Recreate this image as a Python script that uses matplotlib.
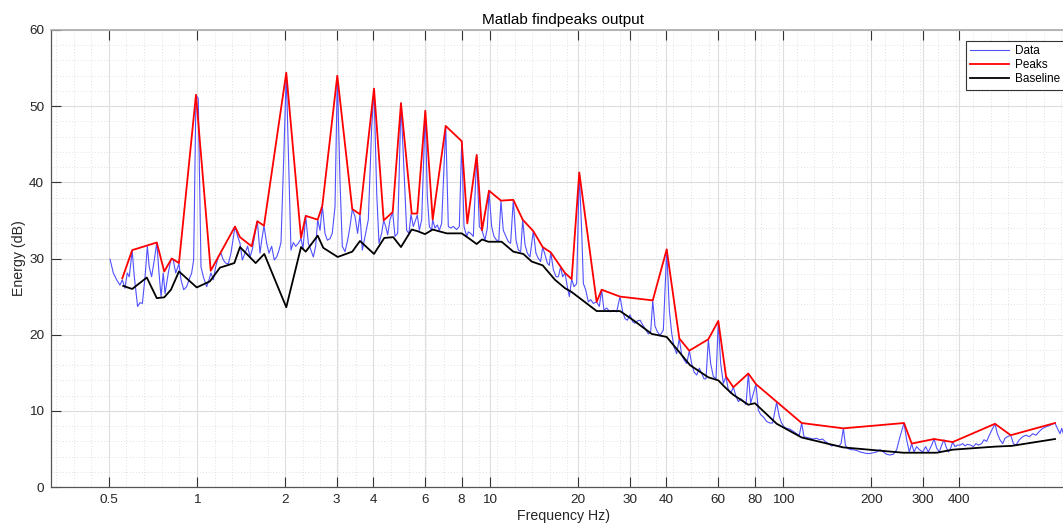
import numpy as np
import matplotlib.pyplot as plt
from matplotlib.ticker import FixedLocator, FixedFormatter, NullFormatter

plt.rcParams['font.family'] = ['Liberation Sans', 'DejaVu Sans']

# measured spectrum (Hz, dB)
data_hz = [0.505, 0.518, 0.532, 0.546, 0.556, 0.568, 0.578, 0.587, 0.601, 0.611,
           0.618, 0.627, 0.639, 0.651, 0.665, 0.677, 0.687, 0.700, 0.715, 0.729,
           0.742, 0.754, 0.767, 0.778, 0.798, 0.815, 0.830, 0.846, 0.868, 0.882,
           0.901, 0.922, 0.939, 0.959, 0.974, 0.992, 1.010, 1.032, 1.051, 1.079,
           1.099, 1.116, 1.137, 1.158, 1.182, 1.207, 1.230, 1.253, 1.279, 1.306,
           1.348, 1.377, 1.402, 1.428, 1.458, 1.489, 1.517, 1.545, 1.578, 1.607,
           1.641, 1.663, 1.693, 1.729, 1.761, 1.798, 1.836, 1.871, 1.905, 1.935,
           1.976, 2.017, 2.061, 2.093, 2.132, 2.172, 2.217, 2.265, 2.301, 2.349,
           2.399, 2.449, 2.495, 2.541, 2.582, 2.629, 2.678, 2.734, 2.785, 2.844,
           2.895, 2.958, 3.013, 3.076, 3.133, 3.200, 3.267, 3.328, 3.390, 3.462,
           3.534, 3.600, 3.667, 3.745, 3.844, 3.947, 4.019, 4.105, 4.180, 4.268,
           4.336, 4.406, 4.476, 4.557, 4.654, 4.740, 4.840, 4.968, 5.100, 5.195,
           5.290, 5.375, 5.473, 5.649, 5.739, 5.846, 6.015, 6.111, 6.209, 6.322,
           6.372, 6.490, 6.610, 6.715, 6.839, 7.062, 7.207, 7.341, 7.497, 7.694,
           7.858, 8.007, 8.154, 8.326, 8.436, 8.590, 8.772, 9.007, 9.195, 9.391,
           9.614, 9.792, 9.922, 10.13, 10.32, 10.54, 10.71, 10.90, 11.10, 11.34,
           11.55, 11.76, 12.01, 12.27, 12.50, 12.73, 12.93, 13.17, 13.41, 13.69,
           14.05, 14.35, 14.62, 14.89, 15.13, 15.41, 15.69, 15.94, 16.12, 16.46,
           16.81, 17.11, 17.42, 17.70, 18.03, 18.36, 18.66, 19.00, 19.35, 19.76,
           20.17, 20.55, 20.83, 21.21, 21.66, 22.06, 22.53, 23.12, 23.61, 24.05,
           24.49, 25.01, 25.68, 26.36, 27.06, 27.78, 28.37, 28.90, 29.43, 30.05,
           30.69, 31.26, 31.84, 32.51, 33.19, 34.08, 34.71, 35.36, 35.93, 36.58,
           37.25, 38.04, 39.05, 40.10, 40.94, 41.70, 42.46, 43.36, 44.27, 45.10,
           45.94, 46.92, 47.90, 48.79, 49.70, 50.75, 51.82, 52.79, 53.77, 54.61,
           55.62, 56.64, 57.84, 59.07, 60.15, 61.28, 62.58, 63.91, 65.09, 66.29,
           67.70, 69.13, 70.42, 71.72, 73.23, 74.78, 76.16, 77.55, 80.86, 82.37,
           83.90, 85.68, 87.96, 90.28, 92.18, 95.1, 97.2, 98.9, 100.8, 102.9,
           105.6, 108.5, 111.3, 113.7, 115.8, 117.9, 120.4, 123.6, 126.9, 130.3,
           133.0, 136.6, 139.1, 142.8, 146.6, 150.5, 154.5, 157.8, 160.7, 163.3,
           165.8, 170.2, 173.8, 178.4, 183.2, 188.0, 193.0, 198.2, 203.4, 208.8,
           214.4, 220.0, 225.9, 231.9, 238.1, 244.3, 250.8, 258.8, 264.3, 269.9,
           274.9, 280.0, 285.9, 292.0, 299.7, 306.8, 313.3, 321.7, 327.7, 334.6,
           341.7, 348.0, 354.4, 360.0, 366.7, 373.5, 379.4, 386.4, 393.6, 401.9,
           410.4, 418.0, 425.7, 437.0, 446.3, 455.8, 464.2, 476.4, 485.3, 495.6,
           508.8, 519.5, 529.1, 538.9, 550.3, 562.0, 572.4, 583.0, 598.7, 611.2,
           624.2, 640.8, 657.6, 675.1, 693.0, 711.5, 730.4, 749.8, 769.6, 790.1,
           815.4, 847.9, 863.6, 881.8, 893.4, 905.4, 929.0]
data_db = [29.9, 28.1, 27.2, 26.5, 27.2, 26.1, 28.1, 27.6, 31.0, 27.6,
           25.9, 23.7, 24.2, 24.1, 27.6, 31.6, 28.9, 27.6, 29.8, 32.1,
           28.1, 25.0, 28.1, 25.4, 28.1, 29.9, 29.8, 28.1, 29.3, 27.2,
           25.9, 26.3, 27.2, 28.1, 29.8, 51.5, 51.0, 28.9, 27.6, 26.3,
           27.2, 28.1, 27.2, 28.9, 30.2, 30.7, 29.8, 29.4, 29.3, 30.7,
           34.2, 32.9, 32.0, 29.8, 30.7, 31.6, 30.2, 31.2, 33.3, 34.9,
           30.7, 32.4, 34.3, 32.0, 30.7, 31.6, 29.8, 30.2, 31.1, 32.1,
           42.9, 54.3, 40.7, 31.1, 32.1, 31.6, 32.0, 32.6, 31.3, 35.6,
           32.0, 31.1, 30.2, 31.6, 35.1, 33.7, 36.9, 33.3, 32.4, 32.6,
           33.3, 36.8, 54.0, 40.3, 31.6, 30.9, 32.4, 34.2, 36.5, 35.5,
           33.3, 35.8, 31.1, 32.9, 35.1, 47.3, 52.3, 38.6, 32.0, 33.3,
           35.0, 34.2, 33.1, 35.1, 36.1, 32.9, 33.3, 50.4, 40.7, 33.7,
           33.3, 35.8, 34.2, 35.7, 33.7, 35.1, 49.4, 38.1, 34.2, 33.7,
           35.1, 34.0, 34.4, 33.7, 34.6, 47.4, 34.2, 34.0, 34.2, 33.8,
           34.2, 45.4, 34.2, 32.9, 33.5, 33.3, 32.9, 43.6, 34.2, 33.7,
           32.4, 34.0, 38.9, 34.2, 32.9, 32.4, 32.2, 37.6, 33.7, 32.9,
           32.2, 32.0, 37.7, 32.4, 31.1, 30.9, 35.1, 31.8, 30.7, 30.2,
           33.6, 30.7, 30.0, 29.6, 31.5, 30.5, 29.4, 29.1, 30.8, 28.5,
           27.6, 27.6, 28.9, 27.6, 28.1, 26.3, 25.0, 27.3, 26.3, 26.7,
           41.3, 33.7, 26.7, 25.9, 24.3, 24.6, 24.1, 24.3, 23.7, 25.9,
           23.2, 23.5, 23.0, 23.2, 23.0, 25.0, 23.0, 22.1, 21.9, 22.6,
           21.7, 21.5, 21.8, 21.9, 21.3, 20.6, 20.1, 20.4, 24.5, 21.1,
           20.4, 19.9, 20.6, 31.2, 23.2, 20.2, 18.4, 17.5, 19.5, 17.3,
           16.7, 16.2, 17.9, 16.2, 15.1, 14.7, 15.6, 14.9, 14.2, 14.2,
           19.4, 16.2, 14.5, 14.2, 21.8, 16.2, 13.6, 14.5, 12.7, 12.3,
           13.1, 11.9, 11.2, 11.6, 11.3, 10.8, 14.9, 11.0, 13.5, 10.1,
           9.5, 9.2, 8.6, 8.4, 8.4, 11.1, 9.2, 8.4, 7.9, 7.7,
           7.6, 7.3, 7.0, 6.8, 8.4, 6.6, 6.5, 6.4, 6.3, 6.4,
           6.2, 6.3, 6.0, 5.7, 5.4, 5.5, 5.3, 5.7, 7.7, 5.5,
           5.1, 4.9, 4.9, 4.8, 4.6, 4.5, 4.4, 4.4, 4.5, 4.6,
           4.9, 4.6, 4.3, 4.2, 4.3, 4.9, 6.6, 8.4, 6.2, 4.6,
           5.7, 4.6, 5.3, 4.9, 4.6, 5.3, 4.6, 5.5, 6.3, 5.1,
           4.6, 5.5, 6.2, 5.3, 4.6, 5.1, 5.9, 5.3, 5.5, 5.5,
           5.7, 5.4, 5.6, 5.5, 5.3, 5.7, 5.5, 5.7, 6.2, 6.0,
           7.0, 7.7, 8.3, 7.0, 6.2, 5.7, 6.4, 6.6, 6.8, 5.7,
           5.5, 6.2, 6.6, 6.8, 6.6, 7.0, 6.8, 7.3, 7.7, 7.9,
           8.1, 8.4, 7.7, 7.0, 7.7, 7.0, 6.6]

# findpeaks result
peak_hz = [0.556, 0.601, 0.729, 0.773, 0.820, 0.868, 0.992, 1.114, 1.348, 1.402,
           1.537, 1.606, 1.693, 2.017, 2.265, 2.350, 2.582, 2.677, 3.012, 3.388,
           3.600, 4.019, 4.337, 4.655, 4.968, 5.404, 5.648, 6.015, 6.374, 7.062,
           8.007, 8.366, 9.007, 9.391, 9.922, 10.90, 12.01, 12.93, 14.05, 15.13,
           16.12, 18.03, 19.00, 20.17, 23.12, 24.05, 27.78, 35.93, 40.10, 44.27,
           47.88, 55.62, 60.15, 63.91, 67.69, 76.16, 80.86, 115.8, 160.6, 258.8,
           274.9, 327.7, 379.5, 529.1, 598.7, 847.9]
peak_db = [27.4, 31.1, 32.1, 28.3, 30.0, 29.4, 51.5, 28.4, 34.2, 32.8,
           31.6, 34.9, 34.3, 54.4, 32.7, 35.6, 35.1, 36.9, 54.0, 36.5,
           35.8, 52.3, 35.0, 36.1, 50.4, 35.9, 35.9, 49.4, 35.1, 47.4,
           45.4, 34.6, 43.6, 33.7, 38.9, 37.6, 37.7, 35.1, 33.6, 31.5,
           30.8, 28.1, 27.3, 41.3, 24.3, 25.9, 25.0, 24.5, 31.2, 19.5,
           17.9, 19.4, 21.8, 14.5, 13.1, 14.9, 13.5, 8.4, 7.7, 8.4,
           5.7, 6.3, 5.9, 8.3, 6.8, 8.4]

# baseline
base_hz = [0.560, 0.601, 0.674, 0.729, 0.773, 0.815, 0.868, 0.998, 1.107, 1.198,
           1.341, 1.402, 1.586, 1.697, 2.017, 2.265, 2.350, 2.582, 2.698, 3.022,
           3.388, 3.600, 4.019, 4.357, 4.677, 4.968, 5.404, 5.648, 6.001, 6.374,
           7.117, 8.007, 8.433, 9.007, 9.391, 9.867, 10.96, 12.01, 12.99, 13.88,
           15.13, 16.67, 18.03, 19.00, 20.56, 23.13, 27.78, 30.84, 35.64, 40.10,
           44.51, 48.15, 55.62, 60.15, 63.39, 67.69, 76.16, 80.23, 95.2, 115.8,
           160.6, 257.4, 334.7, 379.5, 529.1, 603.4, 847.9]
base_db = [26.4, 26.0, 27.5, 24.8, 24.9, 25.9, 28.3, 26.2, 27.0, 28.8,
           29.4, 31.5, 29.4, 30.6, 23.6, 31.5, 30.9, 33.0, 31.4, 30.2,
           30.9, 32.3, 30.6, 32.7, 32.8, 31.5, 33.8, 33.6, 33.2, 33.8,
           33.3, 33.3, 32.7, 31.9, 32.5, 32.2, 32.2, 30.9, 30.6, 29.6,
           29.1, 27.2, 26.1, 25.6, 24.6, 23.1, 23.1, 21.9, 20.1, 19.7,
           17.6, 16.0, 14.4, 14.0, 13.1, 12.1, 10.8, 11.0, 8.3, 6.5,
           5.2, 4.5, 4.5, 4.9, 5.3, 5.4, 6.3]

xticks = [0.5, 1, 2, 3, 4, 6, 8, 10, 20, 30, 40, 60, 80, 100, 200, 300, 400]
xticklabels = ['0.5', '1', '2', '3', '4', '6', '8', '10', '20', '30', '40',
               '60', '80', '100', '200', '300', '400']

fig = plt.figure(figsize=(10.63, 5.26), dpi=100)
# axes runs a little past the right edge (the reference is cropped there)
ax = fig.add_axes([51/1063, 39/526, 1025/1063, 457/526])

ax.plot(data_hz, data_db, color='#5050ff', lw=0.8, label='Data')
ax.plot(peak_hz, peak_db, color='#ff0000', lw=1.3, label='Peaks')
ax.plot(base_hz, base_db, color='black', lw=1.3, label='Baseline')

ax.set_xscale('log')
ax.set_xlim(0.3175, 1000)
ax.set_ylim(0, 60)

ax.xaxis.set_major_locator(FixedLocator(xticks))
ax.xaxis.set_major_formatter(FixedFormatter(xticklabels))
ax.xaxis.set_minor_locator(FixedLocator(0.5 * 2 ** (np.arange(-3, 56) / 5)))
ax.xaxis.set_minor_formatter(NullFormatter())
ax.set_yticks(np.arange(0, 61, 10))
ax.set_yticks(np.arange(0, 61, 2), minor=True)

ax.grid(which='major', color='#dedede', lw=0.8)
ax.grid(which='minor', color='#d8d8d8', lw=0.6, linestyle=(0, (1, 2.5)))
ax.set_axisbelow(True)

ax.tick_params(which='major', direction='in', length=7, width=0.8,
               top=True, right=True, labelsize=9.7, color='#333333',
               labelcolor='#262626', pad=5)
ax.tick_params(which='minor', length=0)
for side in ['left', 'bottom', 'right']:
    ax.spines[side].set_color('#555555')
    ax.spines[side].set_linewidth(0.9)
ax.spines['top'].set_color('#aaaaaa')
ax.spines['top'].set_linewidth(1.2)

ax.set_title('Matlab findpeaks output', fontsize=11, pad=4)
ax.set_xlabel('Frequency Hz)', fontsize=10.2, labelpad=2, color='#262626')
ax.set_ylabel('Energy (dB)', fontsize=10.2, labelpad=2, color='#262626')

leg = ax.legend(loc='upper left', bbox_to_anchor=(0.8924, 0.9766),
                borderaxespad=0, fontsize=8.5, handlelength=3.3,
                handletextpad=0.45, borderpad=0.4, labelspacing=0.15,
                fancybox=False, framealpha=1)
leg.get_frame().set_edgecolor('#333333')
leg.get_frame().set_linewidth(0.8)

fig.savefig('out.png', dpi=100)
